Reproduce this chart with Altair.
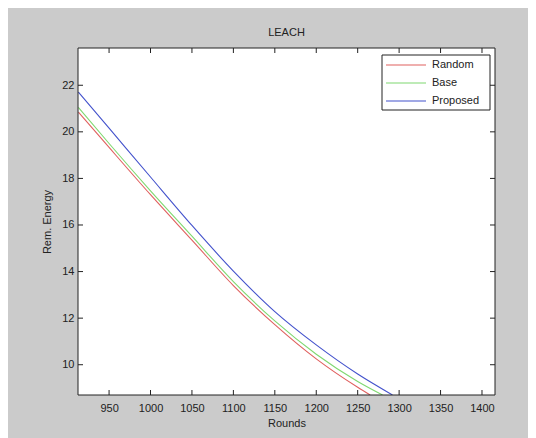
import altair as alt
import pandas as pd

# ---- data ----
series = ["Random", "Base", "Proposed"]
colors = ["#e0605f", "#7fd870", "#4352cc"]

rounds_random = [913, 950, 1000, 1050, 1100, 1150, 1200, 1250, 1265]
energy_random = [20.85, 19.33, 17.3, 15.35, 13.4, 11.72, 10.25, 9.03, 8.7]

rounds_base = [913, 950, 1000, 1050, 1100, 1150, 1200, 1250, 1280]
energy_base = [21.05, 19.5, 17.47, 15.52, 13.57, 11.88, 10.45, 9.28, 8.7]

rounds_proposed = [913, 950, 1000, 1050, 1100, 1150, 1200, 1250, 1292]
energy_proposed = [21.71, 20.16, 18.06, 15.98, 14.02, 12.28, 10.85, 9.6, 8.7]

x_ticks = [950, 1000, 1050, 1100, 1150, 1200, 1250, 1300, 1350, 1400]
y_ticks = [10, 12, 14, 16, 18, 20, 22]
x_domain = [912.5, 1415.7]
y_domain = [8.7, 23.6]

title_text = "LEACH"
x_title = "Rounds"
y_title = "Rem. Energy"

# ---- build tables ----
rows = []
for name, rx, ry in [("Random", rounds_random, energy_random),
                     ("Base", rounds_base, energy_base),
                     ("Proposed", rounds_proposed, energy_proposed)]:
    for i, (a, b) in enumerate(zip(rx, ry)):
        rows.append({"series": name, "rounds": a, "energy": b, "order": i})
df = pd.DataFrame(rows)
xt = pd.DataFrame({"t": x_ticks})
yt = pd.DataFrame({"t": y_ticks})
one = pd.DataFrame({"a": [0]})

W, H = 417, 347
FONT = "Liberation Sans"
TXT = "#222222"

xs = alt.Scale(domain=x_domain, nice=False, zero=False)
ys = alt.Scale(domain=y_domain, nice=False, zero=False)
cs = alt.Scale(domain=series, range=colors)

x_axis = alt.Axis(values=x_ticks, format="d", tickSize=0, domain=False, grid=False,
                  labelPadding=7, labelFontSize=11, labelFont=FONT,
                  labelColor=TXT, title=x_title, titleFont=FONT,
                  titleFontSize=11, titleFontWeight="normal", titleColor=TXT,
                  titlePadding=4, zindex=1)
y_axis = alt.Axis(values=y_ticks, format="d", tickSize=0, domain=False, grid=False,
                  labelPadding=4, labelFontSize=11, labelFont=FONT,
                  labelColor=TXT, title=y_title, titleFont=FONT,
                  titleFontSize=11, titleFontWeight="normal", titleColor=TXT,
                  titlePadding=9, zindex=1)

lines = alt.Chart(df).mark_line(strokeWidth=1.1, clip=True, interpolate="monotone").encode(
    x=alt.X("rounds:Q", scale=xs, axis=x_axis),
    y=alt.Y("energy:Q", scale=ys, axis=y_axis),
    color=alt.Color("series:N", scale=cs, sort=series,
                    legend=alt.Legend(orient="none", legendX=307, legendY=8,
                                      title=None, symbolType="stroke",
                                      symbolSize=1600, symbolStrokeWidth=1.2,
                                      clipHeight=18, rowPadding=0, padding=0,
                                      labelOffset=5, labelFontSize=11,
                                      labelFont=FONT, labelColor=TXT,
                                      zindex=2)),
    order="order:Q",
)

tick_len = 5
bottom_ticks = alt.Chart(xt).mark_rule(color=TXT, strokeWidth=1).encode(
    x=alt.X("t:Q", scale=xs), y=alt.value(H), y2=alt.value(H - tick_len))
top_ticks = alt.Chart(xt).mark_rule(color=TXT, strokeWidth=1).encode(
    x=alt.X("t:Q", scale=xs), y=alt.value(0), y2=alt.value(tick_len))
left_ticks = alt.Chart(yt).mark_rule(color=TXT, strokeWidth=1).encode(
    y=alt.Y("t:Q", scale=ys), x=alt.value(0), x2=alt.value(tick_len))
right_ticks = alt.Chart(yt).mark_rule(color=TXT, strokeWidth=1).encode(
    y=alt.Y("t:Q", scale=ys), x=alt.value(W), x2=alt.value(W - tick_len))

border = alt.Chart(one).mark_rect(filled=False, stroke=TXT, strokeWidth=1).encode(
    x=alt.value(0), x2=alt.value(W), y=alt.value(0), y2=alt.value(H))

legend_box = alt.Chart(one).mark_rect(fill="white", stroke=TXT, strokeWidth=1).encode(
    x=alt.value(304), x2=alt.value(412), y=alt.value(7), y2=alt.value(62))

chart = alt.layer(
    lines, bottom_ticks, top_ticks, left_ticks, right_ticks, border, legend_box
).properties(
    width=W, height=H,
    title=alt.TitleParams(title_text, fontSize=11, font=FONT, fontWeight="normal",
                          color=TXT, offset=10, anchor="middle"),
    autosize=alt.AutoSizeParams(type="none"),
    padding={"left": 70, "top": 40, "right": 33, "bottom": 43},
    background="#cbcbcb",
).configure_view(fill="white", stroke=None)

chart.save("out.html", embed_options={"renderer": "svg", "actions": False})
